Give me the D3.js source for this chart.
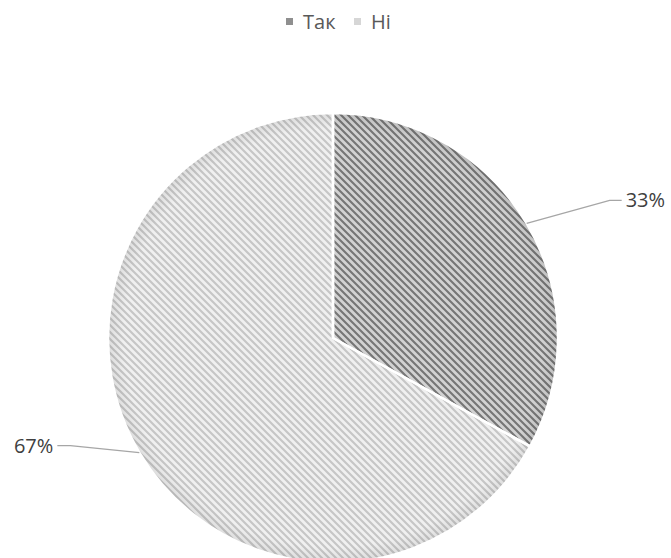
<!DOCTYPE html>
<html>
<head>
<meta charset="utf-8">
<script src="https://cdn.jsdelivr.net/npm/d3@7"></script>
<style>
  html, body { margin: 0; padding: 0; background: #fff; }
  svg { display: block; font-family: "Open Sans", "Noto Sans", sans-serif; }
</style>
</head>
<body>
<svg id="chart" width="671" height="558"></svg>
<script>
const categories = ["Так", "Ні"];
const values = [33, 67];
const labels = ["33%", "67%"];

const W = 671, H = 558;
const cx = 333, cy = 338, R = 225;

const svg = d3.select("#chart");
const defs = svg.append("defs");

const patterns = [
  { id: "patDark", bg: "#d2d2d2", fg: "#767676" },
  { id: "patLight", bg: "#f0f0f0", fg: "#c6c6c6" }
];
patterns.forEach(p => {
  const pat = defs.append("pattern")
    .attr("id", p.id)
    .attr("patternUnits", "userSpaceOnUse")
    .attr("width", 7).attr("height", 7);
  pat.append("rect").attr("width", 7).attr("height", 7).attr("fill", p.bg);
  pat.append("path")
    .attr("d", "M-2,-2 L9,9 M-2,5 L2,9 M5,-2 L9,2")
    .attr("stroke", p.fg).attr("stroke-width", 2.1).attr("fill", "none");
});

const rg = defs.append("radialGradient").attr("id", "rim")
  .attr("gradientUnits", "userSpaceOnUse")
  .attr("cx", cx).attr("cy", cy).attr("r", R);
rg.append("stop").attr("offset", "0.93").attr("stop-color", "#000").attr("stop-opacity", 0);
rg.append("stop").attr("offset", "1").attr("stop-color", "#000").attr("stop-opacity", 0.08);

const color = d3.scaleOrdinal().domain(categories).range(["url(#patDark)", "url(#patLight)"]);
const legendColor = d3.scaleOrdinal().domain(categories).range(["#8f8f8f", "#d6d6d6"]);

const pie = d3.pie().sort(null).value(d => d.v);
const data = pie(categories.map((c, i) => ({ c, v: values[i], l: labels[i] })));
const arc = d3.arc().innerRadius(0).outerRadius(R);

const g = svg.append("g").attr("transform", `translate(${cx},${cy})`);

g.selectAll("path.slice").data(data).join("path")
  .attr("class", "slice")
  .attr("d", arc)
  .attr("fill", d => color(d.data.c));

g.append("circle").attr("r", R).attr("fill", "url(#rim)")
  .attr("transform", `translate(${-cx},${-cy})`).attr("cx", cx).attr("cy", cy);

g.selectAll("path.sep").data(data).join("path")
  .attr("class", "sep")
  .attr("d", arc)
  .attr("fill", "none")
  .attr("stroke", "#fff").attr("stroke-width", 2.5).attr("stroke-linejoin", "round");

// leader lines and labels
const elbow = [{ dx: 83, dy: -23, run: 12 }, { dx: -69, dy: -7, run: -13 }];
data.forEach((d, i) => {
  const a = (d.startAngle + d.endAngle) / 2;
  const x0 = Math.sin(a) * R, y0 = -Math.cos(a) * R;
  const x1 = x0 + elbow[i].dx, y1 = y0 + elbow[i].dy;
  const x2 = x1 + elbow[i].run;
  g.append("polyline")
    .attr("points", [[x0, y0], [x1, y1], [x2, y1]].map(p => p.join(",")).join(" "))
    .attr("fill", "none").attr("stroke", "#a6a6a6").attr("stroke-width", 1.3);
  const right = elbow[i].run > 0;
  g.append("text")
    .attr("x", x2 + (right ? 4 : -4))
    .attr("y", y1 + 7)
    .attr("text-anchor", right ? "start" : "end")
    .attr("font-size", 20)
    .attr("fill", "#404040")
    .text(d.data.l);
});

// legend
const legend = svg.append("g").attr("transform", "translate(286,29)");
const legX = [0, 68];
categories.forEach((c, i) => {
  const lg = legend.append("g").attr("transform", `translate(${legX[i]},0)`);
  lg.append("rect").attr("x", 0).attr("y", -11).attr("width", 7).attr("height", 7)
    .attr("fill", legendColor(c));
  lg.append("text").attr("x", 17).attr("y", 0)
    .attr("font-size", 20).attr("fill", "#595959").text(c);
});
</script>
</body>
</html>
